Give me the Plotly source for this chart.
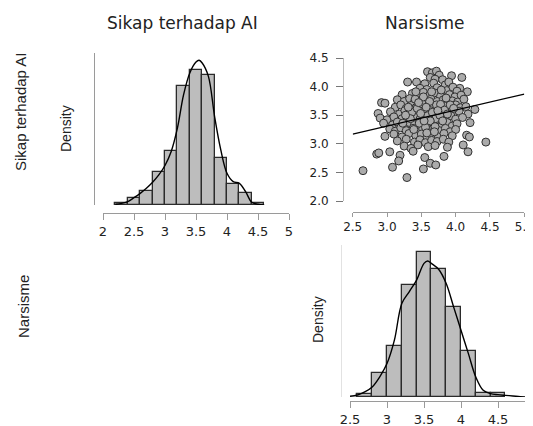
import plotly.graph_objects as go

W, H = 533, 426
OFF = 8  # page body margin of the browser

# ---------------- data ----------------
# Sikap terhadap AI histogram (bin width 0.2) - density
sikap_bin_left = [2.2, 2.4, 2.6, 2.8, 3.0, 3.2, 3.4, 3.6, 3.8, 4.0, 4.2, 4.4]
sikap_bar_density = [0.014, 0.060, 0.122, 0.281, 0.462, 1.012, 1.143, 1.106, 0.397, 0.176, 0.105, 0.014]
sikap_kde_x = [2.2, 2.3, 2.4, 2.5, 2.6, 2.7, 2.8, 2.9, 3.0, 3.1, 3.2, 3.3, 3.4, 3.5, 3.55,
               3.6, 3.7, 3.8, 3.9, 4.0, 4.1, 4.2, 4.3, 4.4, 4.5, 4.6]
sikap_kde_y = [0.006, 0.014, 0.028, 0.062, 0.099, 0.142, 0.193, 0.255, 0.335, 0.454, 0.652, 0.936,
               1.120, 1.213, 1.228, 1.205, 1.092, 0.751, 0.468, 0.269, 0.198, 0.184, 0.113, 0.023,
               0.006, 0.0]

# Narsisme histogram (bin width 0.2) - density
nars_bin_left = [2.6, 2.8, 3.0, 3.2, 3.4, 3.6, 3.8, 4.0, 4.2, 4.4]
nars_bar_density = [0.023, 0.206, 0.440, 0.957, 1.240, 1.097, 0.771, 0.394, 0.037, 0.037]
nars_kde_x = [2.5, 2.6, 2.7, 2.8, 2.9, 3.0, 3.1, 3.2, 3.3, 3.4, 3.5, 3.55, 3.6, 3.7, 3.8, 3.9,
              4.0, 4.1, 4.2, 4.3, 4.4, 4.5, 4.6, 4.7, 4.8, 4.9]
nars_kde_y = [0.006, 0.017, 0.043, 0.086, 0.171, 0.286, 0.486, 0.800, 0.900, 1.000, 1.143, 1.163,
              1.143, 1.091, 0.971, 0.771, 0.571, 0.371, 0.171, 0.057, 0.029, 0.020, 0.014, 0.009,
              0.003, 0.0]

# Scatter: x = Narsisme, y = Sikap terhadap AI
scatter_pts = [
    (3.59, 4.26), (3.66, 4.24), (3.72, 4.27), (3.76, 4.20), (3.94, 4.19), (4.09, 4.16), (3.63, 4.16),
    (3.70, 4.13), (3.81, 4.12), (3.30, 4.08), (3.43, 4.08), (3.55, 4.05), (3.68, 4.06), (3.85, 4.03),
    (3.90, 4.08), (4.06, 3.97), (4.17, 3.91), (3.48, 3.97), (3.58, 3.95), (3.73, 3.98), (3.87, 3.93),
    (3.96, 3.99), (4.02, 3.92), (3.22, 3.86), (3.37, 3.88), (3.45, 3.84), (3.53, 3.90), (3.62, 3.85),
    (3.69, 3.89), (3.78, 3.83), (3.91, 3.86), (3.99, 3.82), (4.08, 3.85),
    (2.92, 3.72), (2.97, 3.71), (3.15, 3.77), (3.25, 3.74), (3.33, 3.79), (3.40, 3.73), (3.50, 3.76),
    (3.57, 3.72), (3.64, 3.78), (3.73, 3.74), (3.82, 3.77), (3.88, 3.71), (3.95, 3.75), (4.03, 3.73),
    (4.12, 3.78),
    (3.12, 3.64), (3.20, 3.68), (3.28, 3.62), (3.35, 3.67), (3.42, 3.63), (3.48, 3.69), (3.55, 3.61),
    (3.60, 3.66), (3.67, 3.63), (3.72, 3.68), (3.78, 3.61), (3.85, 3.66), (3.92, 3.62), (4.00, 3.68),
    (4.07, 3.63), (4.15, 3.65), (4.28, 3.60),
    (2.87, 3.53), (3.05, 3.56), (3.18, 3.52), (3.26, 3.58), (3.32, 3.54), (3.38, 3.59), (3.45, 3.51),
    (3.52, 3.57), (3.58, 3.53), (3.63, 3.58), (3.70, 3.52), (3.76, 3.56), (3.83, 3.51), (3.90, 3.58),
    (3.97, 3.54), (4.05, 3.57), (4.18, 3.52),
    (2.90, 3.45), (3.00, 3.42), (3.10, 3.47), (3.22, 3.44), (3.30, 3.48), (3.36, 3.41), (3.42, 3.46),
    (3.48, 3.43), (3.55, 3.47), (3.61, 3.42), (3.68, 3.46), (3.74, 3.41), (3.80, 3.48), (3.87, 3.44),
    (3.93, 3.49), (4.00, 3.43), (4.10, 3.46),
    (2.95, 3.36), (3.08, 3.33), (3.15, 3.38), (3.25, 3.32), (3.33, 3.37), (3.40, 3.33), (3.47, 3.38),
    (3.53, 3.31), (3.60, 3.36), (3.67, 3.32), (3.73, 3.38), (3.80, 3.34), (3.88, 3.37), (3.95, 3.31),
    (4.02, 3.35), (4.21, 3.37),
    (3.04, 3.26), (3.12, 3.22), (3.20, 3.28), (3.28, 3.23), (3.38, 3.27), (3.45, 3.21), (3.52, 3.26),
    (3.60, 3.22), (3.68, 3.28), (3.76, 3.23), (3.85, 3.27), (3.92, 3.21), (4.00, 3.25),
    (2.97, 3.13), (3.10, 3.17), (3.22, 3.12), (3.32, 3.18), (3.42, 3.14), (3.50, 3.17), (3.58, 3.11),
    (3.66, 3.16), (3.75, 3.12), (3.83, 3.18), (3.95, 3.14), (4.16, 3.15), (4.20, 3.12),
    (3.15, 3.05), (3.28, 3.08), (3.40, 3.03), (3.48, 3.07), (3.56, 3.02), (3.65, 3.06), (3.73, 3.04),
    (3.82, 3.08), (3.90, 3.03),
    (3.25, 2.96), (3.35, 2.92), (3.45, 2.98), (3.60, 2.95), (3.70, 2.97), (3.88, 2.94), (4.11, 2.98),
    (2.85, 2.82), (2.88, 2.84), (3.04, 2.86), (3.19, 2.80), (3.38, 2.87), (4.18, 2.86),
    (3.17, 2.70), (3.55, 2.76), (3.83, 2.78), (3.08, 2.59), (3.63, 2.66), (3.71, 2.63), (2.65, 2.53),
    (3.53, 2.56), (3.29, 2.41), (4.44, 3.03),
    (3.36, 3.55), (3.44, 3.62), (3.51, 3.70), (3.59, 3.49), (3.66, 3.55), (3.71, 3.44), (3.78, 3.69),
    (3.84, 3.59), (3.47, 3.36), (3.56, 3.29), (3.63, 3.40), (3.70, 3.30), (3.77, 3.50), (3.41, 3.78),
    (3.53, 3.82), (3.62, 3.74), (3.86, 3.80), (3.34, 3.44), (3.27, 3.50), (3.49, 3.53), (3.57, 3.64),
    (3.81, 3.40), (3.92, 3.68), (3.65, 3.91), (3.39, 3.25), (3.58, 3.19), (3.74, 3.58), (3.46, 3.72),
    (3.31, 3.64), (3.69, 3.21), (3.54, 3.40), (3.88, 3.52), (3.97, 3.62), (3.23, 3.36), (3.79, 3.94),
    (3.42, 3.91),
]
nars_values = [p[0] for p in scatter_pts]
sikap_values = [p[1] for p in scatter_pts]

# regression line (endpoints)
reg_x = [2.5, 5.0]
reg_y = [3.17, 3.87]

bin_width = 0.2

# ---------------- helpers (screen px -> paper) ----------------
def px_x(p):
    return (p - OFF) / W

def px_y(p):
    return 1 - (p - OFF) / H

BAR_FILL = "#bdbdbd"
BAR_LINE = "#2b2b2b"
AX_COL = "#9a9a9a"
TXT = "#222222"
FONT = "DejaVu Sans"

fig = go.Figure()

# top-left histogram
fig.add_trace(go.Bar(
    x=[b + bin_width / 2 for b in sikap_bin_left], y=sikap_bar_density, width=bin_width,
    marker=dict(color=BAR_FILL, line=dict(color=BAR_LINE, width=1.3)),
    xaxis="x", yaxis="y", hoverinfo="skip"))
fig.add_trace(go.Scatter(
    x=sikap_kde_x, y=sikap_kde_y, mode="lines", line=dict(color="black", width=1.4, shape="spline", smoothing=1.0),
    xaxis="x", yaxis="y", hoverinfo="skip"))

# scatter
fig.add_trace(go.Scatter(
    x=nars_values, y=sikap_values, mode="markers",
    marker=dict(size=8, color="#ababab", line=dict(color="#303030", width=1)),
    xaxis="x2", yaxis="y2", hoverinfo="skip"))
fig.add_trace(go.Scatter(
    x=reg_x, y=reg_y, mode="lines", line=dict(color="black", width=1.3),
    xaxis="x2", yaxis="y2", hoverinfo="skip"))

# bottom-right histogram
fig.add_trace(go.Bar(
    x=[b + bin_width / 2 for b in nars_bin_left], y=nars_bar_density, width=bin_width,
    marker=dict(color=BAR_FILL, line=dict(color=BAR_LINE, width=1.3)),
    xaxis="x3", yaxis="y3", hoverinfo="skip"))
fig.add_trace(go.Scatter(
    x=nars_kde_x, y=nars_kde_y, mode="lines", line=dict(color="black", width=1.4, shape="spline", smoothing=1.0),
    xaxis="x3", yaxis="y3", hoverinfo="skip"))

common_x = dict(showgrid=False, zeroline=False, showline=True, linecolor=AX_COL, linewidth=1,
                ticks="outside", ticklen=6, tickcolor=AX_COL, tickwidth=1,
                tickfont=dict(family=FONT, size=13, color=TXT), fixedrange=True, automargin=False)

br_right_px = W + OFF  # right edge of the figure in screen px
fig.update_layout(
    width=W, height=H, margin=dict(l=0, r=0, t=0, b=0, pad=0, autoexpand=False),
    paper_bgcolor="white", plot_bgcolor="white", showlegend=False, bargap=0,
    xaxis=dict(**common_x, domain=[px_x(103), px_x(289)], range=[2, 5],
               tickvals=[2, 2.5, 3, 3.5, 4, 4.5, 5], ticktext=["2", "2.5", "3", "3.5", "4", "4.5", "5"],
               anchor="free", position=px_y(213)),
    yaxis=dict(domain=[px_y(205), px_y(53)], range=[0, 1.29], showgrid=False, zeroline=False,
               showline=True, linecolor=AX_COL, linewidth=1, showticklabels=False, ticks="",
               anchor="free", position=px_x(94), fixedrange=True, automargin=False),
    xaxis2=dict(**{**common_x, "tickfont": dict(family=FONT, size=12, color=TXT), "ticklen": 4},
                domain=[px_x(352.7), px_x(524.3)], range=[2.5, 5.0],
                tickvals=[2.5, 3.0, 3.5, 4.0, 4.5, 5.0], tickformat=".1f",
                anchor="free", position=px_y(212)),
    yaxis2=dict(domain=[px_y(201), px_y(58)], range=[2.0, 4.5], showgrid=False, zeroline=False,
                showline=True, linecolor="#bbbbbb", linewidth=1, ticks="outside", ticklen=7,
                tickcolor="#777777", tickwidth=1, tickvals=[2.0, 2.5, 3.0, 3.5, 4.0, 4.5], tickformat=".1f",
                tickfont=dict(family=FONT, size=12, color=TXT), ticklabelstandoff=5,
                anchor="free", position=px_x(343), fixedrange=True, automargin=False),
    xaxis3=dict(**common_x, domain=[px_x(350), 1.0], range=[2.5, 2.5 + (br_right_px - 350) / 74],
                tickvals=[2.5, 3, 3.5, 4, 4.5, 5], ticktext=["2.5", "3", "3.5", "4", "4.5", "5"],
                anchor="free", position=px_y(401)),
    yaxis3=dict(domain=[px_y(397), px_y(245)], range=[0, 1.3], showgrid=False, zeroline=False,
                showline=True, linecolor="#e2e2e2", linewidth=1, showticklabels=False, ticks="",
                anchor="free", position=px_x(341), fixedrange=True, automargin=False),
)

ann = []
ann.append(dict(text="Sikap terhadap AI", x=px_x(182.5), y=px_y(23), xref="paper", yref="paper",
                showarrow=False, font=dict(family=FONT, size=17, color=TXT), xanchor="center", yanchor="middle"))
ann.append(dict(text="Narsisme", x=px_x(425), y=px_y(23), xref="paper", yref="paper",
                showarrow=False, font=dict(family=FONT, size=17, color=TXT), xanchor="center", yanchor="middle"))
ann.append(dict(text="Sikap terhadap AI", x=px_x(21), y=px_y(112), xref="paper", yref="paper", textangle=-90,
                showarrow=False, font=dict(family="Liberation Sans", size=15, color=TXT),
                xanchor="center", yanchor="middle"))
ann.append(dict(text="Narsisme", x=px_x(23), y=px_y(307), xref="paper", yref="paper", textangle=-90,
                showarrow=False, font=dict(family="Liberation Sans", size=15, color=TXT),
                xanchor="center", yanchor="middle"))
ann.append(dict(text="Density", x=px_x(66), y=px_y(129), xref="paper", yref="paper", textangle=-90,
                showarrow=False, font=dict(family="Liberation Sans", size=14, color=TXT),
                xanchor="center", yanchor="middle"))
ann.append(dict(text="Density", x=px_x(318), y=px_y(320), xref="paper", yref="paper", textangle=-90,
                showarrow=False, font=dict(family="Liberation Sans", size=14, color=TXT),
                xanchor="center", yanchor="middle"))
fig.update_layout(annotations=ann)

fig.write_html("out.html")
